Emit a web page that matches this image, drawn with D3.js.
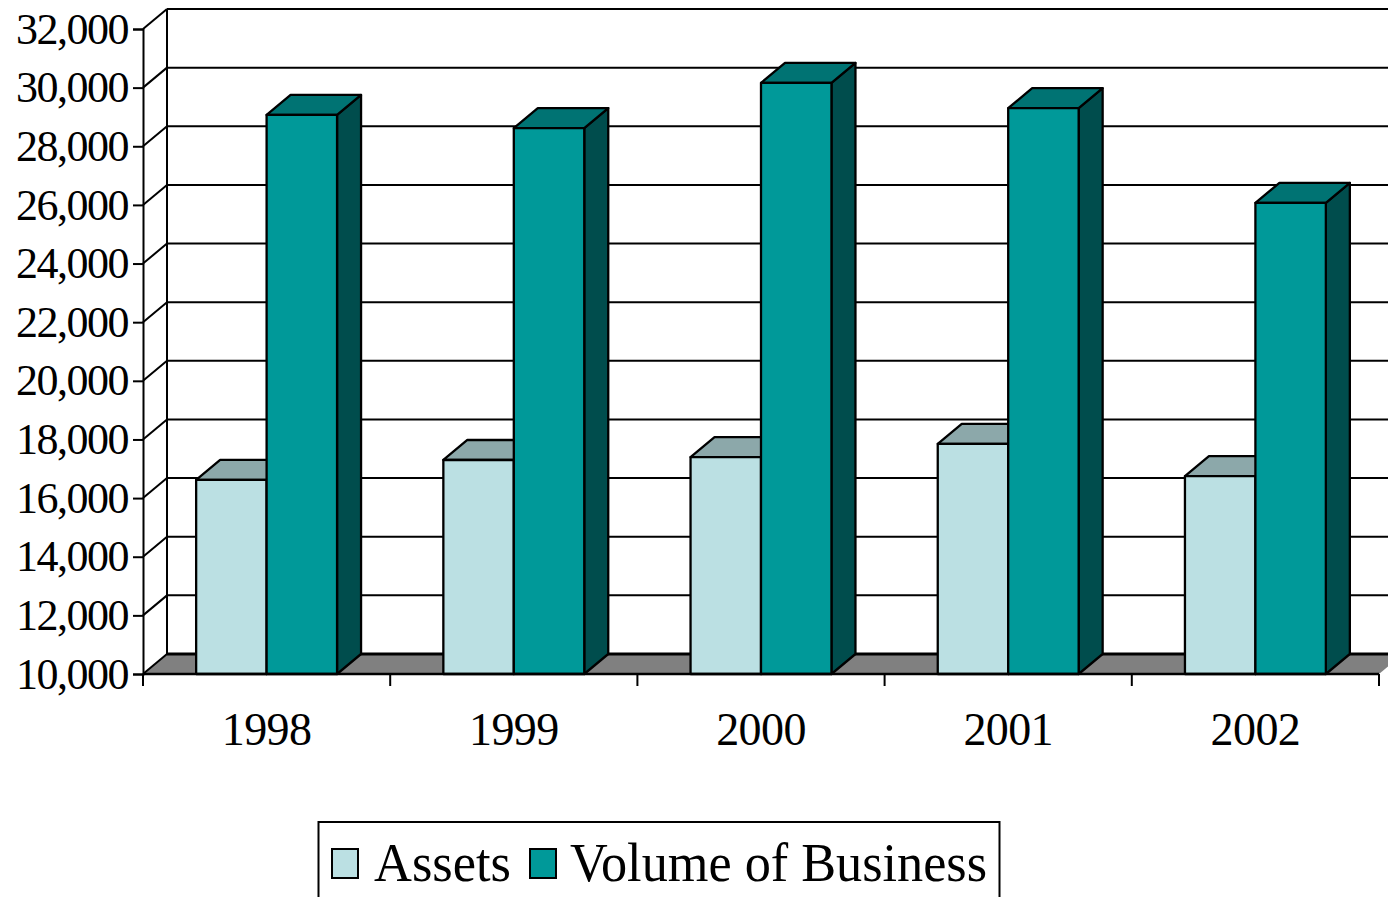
<!DOCTYPE html>
<html>
<head>
<meta charset="utf-8">
<title>Assets and Volume of Business</title>
<script src="https://cdn.jsdelivr.net/npm/d3@7"></script>
<style>
    html, body { margin: 0; padding: 0; background: #fff; overflow: hidden; }
    text { font-family: "Liberation Serif", serif; fill: #000; }
</style>
</head>
<body>
<div id="chart"></div>
<script>

const years = ["1998", "1999", "2000", "2001", "2002"];
const seriesNames = ["Assets", "Volume of Business"];
const assets = [16620, 17300, 17400, 17850, 16750];
const volume = [29070, 28620, 30160, 29300, 26070];
const yTicks = [10000, 12000, 14000, 16000, 18000, 20000, 22000, 24000, 26000, 28000, 30000, 32000];

// front, top, side
const assetColors = ["#bbe0e3", "#8ca8aa", "#5e7072"];
const volumeColors = ["#009999", "#007373", "#004d4d"];

class Bar3dVis {
    constructor(parentElement) {
        this.parentElement = parentElement;
        this.initVis();
    }

    initVis() {
        let vis = this;

        vis.svg = d3.select("#" + vis.parentElement)
            .append("svg")
            .attr("width", 1388)
            .attr("height", 897);

        // depth of the 3d box
        vis.dx = 24;
        vis.dy = -20;

        vis.x = d3.scaleBand()
            .domain(years)
            .range([143, 1379])
            .paddingInner(0.43)
            .paddingOuter(0.215);

        vis.xInner = d3.scaleBand()
            .domain(seriesNames)
            .range([0, vis.x.bandwidth()]);

        vis.y = d3.scaleLinear()
            .domain([10000, 32000])
            .range([674, 29]);

        vis.updateVis();
    }

    updateVis() {
        let vis = this;
        let x0 = 143, y0 = vis.y(10000), x1 = 1379;
        let step = vis.x.step();

        // floor
        vis.svg.append("path")
            .attr("d", `M${x0},${y0}L${x0 + vis.dx},${y0 + vis.dy}L${x1 + vis.dx},${y0 + vis.dy}L${x1},${y0}Z`)
            .attr("fill", "#808080")
            .attr("stroke", "none");

        // back wall grid + side wall
        vis.svg.selectAll(".grid")
            .data(yTicks.slice(1))
            .enter().append("line")
            .attr("class", "grid")
            .attr("x1", x0 + vis.dx)
            .attr("x2", 1388)
            .attr("y1", d => vis.y(d) + vis.dy)
            .attr("y2", d => vis.y(d) + vis.dy)
            .attr("stroke", "#000")
            .attr("stroke-width", 2);

        vis.svg.append("line")
            .attr("x1", x0 + vis.dx).attr("x2", 1388)
            .attr("y1", y0 + vis.dy).attr("y2", y0 + vis.dy)
            .attr("stroke", "#000").attr("stroke-width", 3);

        vis.svg.selectAll(".side")
            .data(yTicks)
            .enter().append("line")
            .attr("class", "side")
            .attr("x1", x0)
            .attr("x2", x0 + vis.dx)
            .attr("y1", d => vis.y(d))
            .attr("y2", d => vis.y(d) + vis.dy)
            .attr("stroke", "#000")
            .attr("stroke-width", 2);

        vis.svg.append("line")
            .attr("x1", x0 + vis.dx).attr("x2", x0 + vis.dx)
            .attr("y1", vis.y(32000) + vis.dy).attr("y2", y0 + vis.dy)
            .attr("stroke", "#000").attr("stroke-width", 2);

        // bars, assets first so volume sits on top of them
        years.forEach((year, i) => {
            vis.drawBar(vis.x(year), vis.xInner(seriesNames[0]), assets[i], assetColors);
            vis.drawBar(vis.x(year), vis.xInner(seriesNames[1]), volume[i], volumeColors);
        });

        // y axis
        let yAxis = d3.axisLeft(vis.y)
            .tickValues(yTicks)
            .tickSize(10)
            .tickPadding(5)
            .tickFormat(d3.format(","));

        let yAxisGroup = vis.svg.append("g")
            .attr("class", "y-axis axis")
            .attr("transform", `translate(${x0},0)`)
            .call(yAxis);

        yAxisGroup.selectAll("line").attr("stroke", "#000").attr("stroke-width", 2);
        yAxisGroup.select(".domain").attr("stroke", "#000").attr("stroke-width", 2);
        yAxisGroup.selectAll("text")
            .attr("font-size", 44)
            .attr("font-family", "Liberation Serif")
            .attr("letter-spacing", -1.5);

        // x axis
        let xAxis = d3.axisBottom(vis.x)
            .tickSize(0)
            .tickPadding(38);

        let xAxisGroup = vis.svg.append("g")
            .attr("class", "x-axis axis")
            .attr("transform", `translate(0,${y0})`)
            .call(xAxis);

        xAxisGroup.select(".domain").remove();
        xAxisGroup.selectAll("text")
            .attr("font-size", 46)
            .attr("font-family", "Liberation Serif")
            .attr("letter-spacing", -0.6);

        vis.svg.append("line")
            .attr("x1", x0).attr("x2", x1)
            .attr("y1", y0).attr("y2", y0)
            .attr("stroke", "#000").attr("stroke-width", 2.5);

        vis.svg.selectAll(".x-tick")
            .data(d3.range(years.length + 1))
            .enter().append("line")
            .attr("class", "x-tick")
            .attr("x1", d => x0 + d * step)
            .attr("x2", d => x0 + d * step)
            .attr("y1", y0)
            .attr("y2", y0 + 12)
            .attr("stroke", "#000")
            .attr("stroke-width", 2);

        vis.drawLegend();
    }

    drawBar(left, offset, value, colors) {
        let vis = this;
        let xa = left + offset;
        let w = vis.xInner.bandwidth();
        let top = vis.y(value);
        let base = vis.y(10000);
        let dx = vis.dx, dy = vis.dy;

        let g = vis.svg.append("g")
            .attr("stroke", "#000")
            .attr("stroke-width", 2.3)
            .attr("stroke-linejoin", "round");

        g.append("path")
            .attr("d", `M${xa + w},${top}L${xa + w + dx},${top + dy}L${xa + w + dx},${base + dy}L${xa + w},${base}Z`)
            .attr("fill", colors[2]);
        g.append("path")
            .attr("d", `M${xa},${top}L${xa + dx},${top + dy}L${xa + w + dx},${top + dy}L${xa + w},${top}Z`)
            .attr("fill", colors[1]);
        g.append("rect")
            .attr("x", xa)
            .attr("y", top)
            .attr("width", w)
            .attr("height", base - top)
            .attr("fill", colors[0]);
    }

    drawLegend() {
        let vis = this;

        vis.svg.append("rect")
            .attr("x", 318.5)
            .attr("y", 822)
            .attr("width", 681)
            .attr("height", 100)
            .attr("fill", "#fff")
            .attr("stroke", "#000")
            .attr("stroke-width", 2);

        let items = [
            {name: seriesNames[0], color: assetColors[0], box: 331, label: 374, length: 137},
            {name: seriesNames[1], color: volumeColors[0], box: 529, label: 570, length: 417}
        ];

        items.forEach(d => {
            vis.svg.append("rect")
                .attr("x", d.box + 1)
                .attr("y", 849)
                .attr("width", 26)
                .attr("height", 29)
                .attr("fill", d.color)
                .attr("stroke", "#000")
                .attr("stroke-width", 2);

            vis.svg.append("text")
                .attr("x", d.label)
                .attr("y", 881)
                .attr("font-size", 55)
                .attr("textLength", d.length)
                .attr("lengthAdjust", "spacingAndGlyphs")
                .text(d.name);
        });
    }
}

new Bar3dVis("chart");

</script>
</body>
</html>
